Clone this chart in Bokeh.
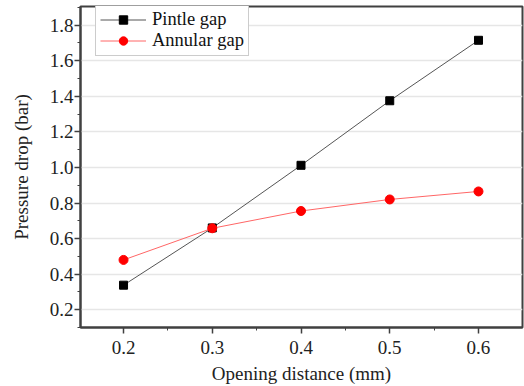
from bokeh.plotting import figure
from bokeh.models import Range1d, FixedTicker, Legend, LegendItem, NumeralTickFormatter
from bokeh.embed import file_html
from bokeh.resources import INLINE

opening = [0.2, 0.3, 0.4, 0.5, 0.6]
pintle_gap = [0.338, 0.66, 1.012, 1.375, 1.715]
annular_gap = [0.48, 0.658, 0.755, 0.82, 0.865]
x_ticks = [0.2, 0.3, 0.4, 0.5, 0.6]
y_ticks = [0.2, 0.4, 0.6, 0.8, 1.0, 1.2, 1.4, 1.6, 1.8]

FONT = "Liberation Serif"
AX = "#404040"

p = figure(width=524, height=386, output_backend="svg", toolbar_location=None,
           x_range=Range1d(0.1515, 0.6496), y_range=Range1d(0.1, 1.905),
           min_border_left=80, min_border_right=2, min_border_top=6, min_border_bottom=56)
p.background_fill_color = "white"
p.border_fill_color = "white"
p.outline_line_color = AX
p.outline_line_width = 2

p.xaxis[0].ticker = FixedTicker(ticks=x_ticks, minor_ticks=[0.15, 0.25, 0.35, 0.45, 0.55, 0.65])
p.yaxis[0].ticker = FixedTicker(ticks=y_ticks, minor_ticks=[0.1, 0.3, 0.5, 0.7, 0.9, 1.1, 1.3, 1.5, 1.7, 1.9])
p.xaxis[0].formatter = NumeralTickFormatter(format="0.0")
p.yaxis[0].formatter = NumeralTickFormatter(format="0.0")
for ax in (p.xaxis[0], p.yaxis[0]):
    ax.axis_line_color = AX
    ax.axis_line_width = 2
    ax.major_tick_line_color = AX
    ax.minor_tick_line_color = AX
    ax.major_tick_line_width = 1.5
    ax.major_tick_out = 6
    ax.major_tick_in = 0
    ax.minor_tick_out = 3
    ax.minor_tick_in = 0
    ax.major_label_text_font = FONT
    ax.major_label_text_font_size = "19px"
    ax.major_label_text_color = "#222222"
    ax.axis_label_text_font = FONT
    ax.axis_label_text_font_size = "19px"
    ax.axis_label_text_font_style = "normal"
    ax.axis_label_text_color = "#222222"
p.xaxis[0].axis_label = "Opening distance (mm)"
p.yaxis[0].axis_label = "Pressure drop (bar)"
p.xaxis[0].major_label_standoff = 7
p.yaxis[0].major_label_standoff = 1
p.xaxis[0].axis_label_standoff = 6
p.yaxis[0].axis_label_standoff = 15

p.xgrid.grid_line_color = None
p.ygrid.grid_line_color = "#e6e6e6"
p.ygrid.grid_line_width = 1.5

l1 = p.line(opening, pintle_gap, line_color="#555555", line_width=1)
s1 = p.scatter(opening, pintle_gap, marker="square", size=8, fill_color="black", line_color="black")
l2 = p.line(opening, annular_gap, line_color="#ff6666", line_width=1)
s2 = p.scatter(opening, annular_gap, marker="circle", size=9, fill_color="red", line_color="red")

legend = Legend(items=[LegendItem(label="Pintle gap", renderers=[l1, s1]),
                       LegendItem(label="Annular gap", renderers=[l2, s2])],
                location=(15, 271))
legend.label_text_font = FONT
legend.label_text_font_size = "18.5px"
legend.label_text_color = "#111111"
legend.border_line_color = "#999999"
legend.border_line_width = 1
legend.background_fill_alpha = 1
legend.margin = 0
legend.padding = 4
legend.spacing = 0
legend.glyph_width = 46
legend.label_height = 21
legend.glyph_height = 21
legend.label_standoff = 6
legend.label_text_baseline = "middle"
p.add_layout(legend)

open("out.html", "w").write(file_html(p, INLINE))
